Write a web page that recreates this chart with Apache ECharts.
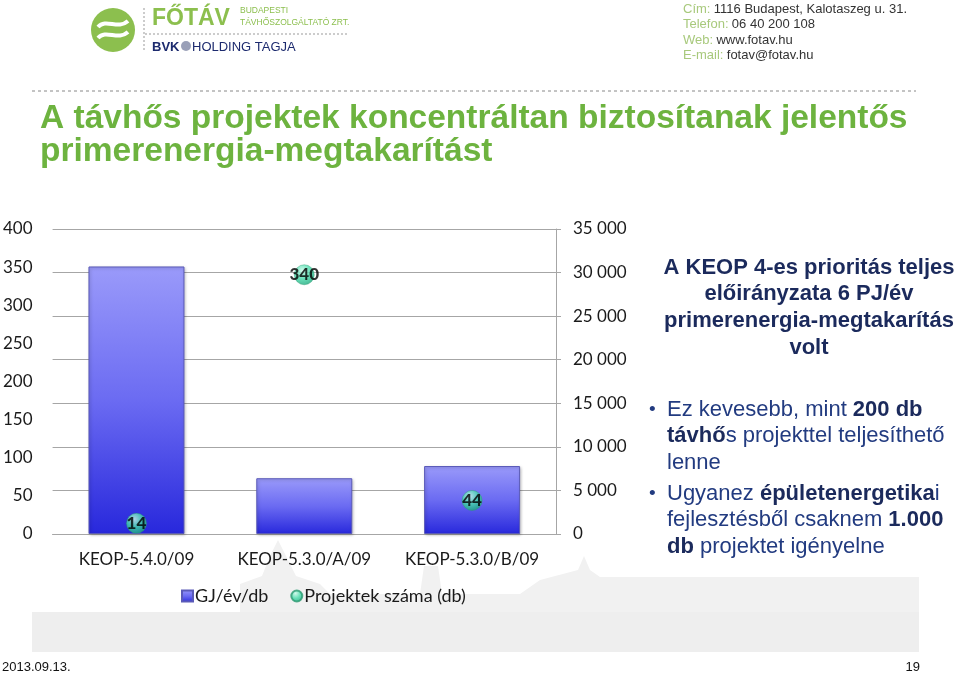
<!DOCTYPE html>
<html>
<head>
<meta charset="utf-8">
<script src="https://cdn.jsdelivr.net/npm/echarts@6/dist/echarts.min.js"></script>
<style>
html,body{margin:0;padding:0;background:#fff;}
#c{width:960px;height:676px;}
</style>
</head>
<body>
<div id="c"></div>
<script>
// ---- data ----
var categories = ['KEOP-5.4.0/09', 'KEOP-5.3.0/A/09', 'KEOP-5.3.0/B/09'];
var gjPerYear = [30700, 6400, 7800];          // GJ/év/db (right axis)
var projectCounts = [14, 340, 44];            // Projektek száma (db) (left axis)
var leftTicks = { min: 0, max: 400, interval: 50 };
var rightTicks = { min: 0, max: 35000, interval: 5000 };
var seriesNames = ['GJ/év/db', 'Projektek száma (db)'];

var chart = echarts.init(document.getElementById('c'), null, { renderer: 'canvas' });
var CF = 'Lato, "Open Sans", sans-serif';
var AF = '"Liberation Sans", Arial, sans-serif';
var navy = '#1b2a5c', blue = '#223b80', green = '#6db33f', lg = '#8cbf4e';

function fmt(v) { return String(v).replace(/\B(?=(\d{3})+(?!\d))/g, ' '); }

var graphics = [
  // background silhouette
  { type: 'polygon', z: -5, silent: true,
    shape: { points: [[32,652],[32,612],[240,612],[240,584],[262,576],[270,556],[278,540],[286,556],[296,576],[320,584],[330,594],[420,594],[424,566],[438,566],[442,594],[520,594],[540,580],[578,570],[584,556],[590,570],[600,577],[919,577],[919,652]] },
    style: { fill: '#f1f1f1' } },
  { type: 'rect', z: -4, silent: true, shape: { x: 32, y: 612, width: 887, height: 40 }, style: { fill: '#eeeeee' } },
  // logo
  { type: 'circle', shape: { cx: 113, cy: 30, r: 22 }, style: { fill: lg } },
  { type: 'bezierCurve', shape: { x1: 98, y1: 27, cpx1: 106, cpy1: 18, cpx2: 118, cpy2: 30, x2: 128, y2: 21 }, style: { stroke: '#fff', lineWidth: 4, fill: null } },
  { type: 'bezierCurve', shape: { x1: 98, y1: 38, cpx1: 106, cpy1: 29, cpx2: 118, cpy2: 41, x2: 128, y2: 32 }, style: { stroke: '#fff', lineWidth: 4, fill: null } },
  { type: 'line', shape: { x1: 144, y1: 8, x2: 144, y2: 52 }, style: { stroke: '#999', lineWidth: 1, lineDash: [2, 2] } },
  { type: 'line', shape: { x1: 145, y1: 34, x2: 347, y2: 34 }, style: { stroke: '#999', lineWidth: 1, lineDash: [2, 2] } },
  { type: 'text', style: { text: 'FŐTÁV', x: 152, y: 19, font: 'bold 23px ' + AF, fill: lg, verticalAlign: 'middle' } },
  { type: 'text', style: { text: 'BUDAPESTI', x: 240, y: 11, font: '8.5px ' + AF, fill: lg, verticalAlign: 'middle' } },
  { type: 'text', style: { text: 'TÁVHŐSZOLGÁLTATÓ ZRT.', x: 240, y: 23, font: '8.5px ' + AF, fill: lg, verticalAlign: 'middle' } },
  { type: 'text', style: { text: 'BVK', x: 152, y: 47, font: 'bold 13px ' + AF, fill: '#1c2a6e', verticalAlign: 'middle' } },
  { type: 'circle', shape: { cx: 186, cy: 46, r: 5 }, style: { fill: '#9aa0b8' } },
  { type: 'text', style: { text: 'HOLDING TAGJA', x: 192, y: 47, font: '13px ' + AF, fill: '#1c2a6e', verticalAlign: 'middle' } },
  // contacts
  { type: 'text', style: { text: '{l|Cím:} {v|1116 Budapest, Kalotaszeg u. 31.}', x: 683, y: 9, verticalAlign: 'middle', rich: { l: { fill: '#a8c97c', font: '13px ' + AF }, v: { fill: '#333', font: '13px ' + AF } } } },
  { type: 'text', style: { text: '{l|Telefon:} {v|06 40 200 108}', x: 683, y: 24, verticalAlign: 'middle', rich: { l: { fill: '#a8c97c', font: '13px ' + AF }, v: { fill: '#333', font: '13px ' + AF } } } },
  { type: 'text', style: { text: '{l|Web:} {v|www.fotav.hu}', x: 683, y: 40, verticalAlign: 'middle', rich: { l: { fill: '#a8c97c', font: '13px ' + AF }, v: { fill: '#333', font: '13px ' + AF } } } },
  { type: 'text', style: { text: '{l|E-mail:} {v|fotav@fotav.hu}', x: 683, y: 55, verticalAlign: 'middle', rich: { l: { fill: '#a8c97c', font: '13px ' + AF }, v: { fill: '#333', font: '13px ' + AF } } } },
  // separator
  { type: 'line', shape: { x1: 32, y1: 91, x2: 916, y2: 91 }, style: { stroke: '#888', lineWidth: 1, lineDash: [3, 3] } },
  // title
  { type: 'text', style: { text: 'A távhős projektek koncentráltan biztosítanak jelentős', x: 40, y: 119, font: 'bold 33.5px ' + AF, fill: green, verticalAlign: 'middle' } },
  { type: 'text', style: { text: 'primerenergia-megtakarítást', x: 40, y: 152, font: 'bold 33.5px ' + AF, fill: green, verticalAlign: 'middle' } },
  // right text
  { type: 'text', style: { text: 'A KEOP 4-es prioritás teljes', x: 809, y: 268, font: 'bold 22px ' + AF, fill: navy, align: 'center', verticalAlign: 'middle' } },
  { type: 'text', style: { text: 'előirányzata 6 PJ/év', x: 809, y: 294, font: 'bold 22px ' + AF, fill: navy, align: 'center', verticalAlign: 'middle' } },
  { type: 'text', style: { text: 'primerenergia-megtakarítás', x: 809, y: 321, font: 'bold 22px ' + AF, fill: navy, align: 'center', verticalAlign: 'middle' } },
  { type: 'text', style: { text: 'volt', x: 809, y: 348, font: 'bold 22px ' + AF, fill: navy, align: 'center', verticalAlign: 'middle' } },
  { type: 'text', style: { text: '•', x: 649, y: 410, font: '19px ' + AF, fill: blue, verticalAlign: 'middle' } },
  { type: 'text', style: { text: '•', x: 649, y: 494, font: '19px ' + AF, fill: blue, verticalAlign: 'middle' } }
];
var rich = { n: { fill: blue, font: '22px ' + AF }, b: { fill: navy, font: 'bold 22px ' + AF } };
var bulletLines = [
  ['{n|Ez kevesebb, mint }{b|200 db}', 410],
  ['{b|távhő}{n|s projekttel teljesíthető}', 436],
  ['{n|lenne}', 463],
  ['{n|Ugyanez }{b|épületenergetika}{n|i}', 494],
  ['{n|fejlesztésből csaknem }{b|1.000}', 520],
  ['{b|db}{n| projektet igényelne}', 547]
];
bulletLines.forEach(function (l) {
  graphics.push({ type: 'text', style: { text: l[0], x: 667, y: l[1], verticalAlign: 'middle', rich: rich } });
});
graphics.push({ type: 'text', style: { text: '2013.09.13.', x: 2, y: 667, font: '13px ' + AF, fill: '#111', verticalAlign: 'middle' } });
graphics.push({ type: 'text', style: { text: '19', x: 920, y: 667, font: '13px ' + AF, fill: '#111', align: 'right', verticalAlign: 'middle' } });

var option = {
  animation: false,
  backgroundColor: 'transparent',
  graphic: graphics,
  grid: { left: 50, right: 404, top: 229, bottom: 142, containLabel: false },
  legend: {
    left: 176, top: 582, itemWidth: 11, itemHeight: 11, itemGap: 22,
    textStyle: { fontFamily: CF, fontSize: 18, color: '#1a1a1a', padding: [0, 0, 0, -3] },
    data: [{ name: seriesNames[0], icon: 'rect' }, { name: seriesNames[1], icon: 'circle' }]
  },
  xAxis: {
    type: 'category', data: categories,
    axisLine: { lineStyle: { color: '#a6a6a6' } },
    axisTick: { show: false },
    axisLabel: { interval: 0, fontFamily: CF, fontSize: 17, color: '#1a1a1a', margin: 17 }
  },
  yAxis: [
    { type: 'value', position: 'left', min: leftTicks.min, max: leftTicks.max, interval: leftTicks.interval,
      axisLine: { show: false }, axisTick: { show: false }, splitLine: { show: false },
      axisLabel: { fontFamily: CF, fontSize: 17, color: '#1a1a1a', margin: 20 } },
    { type: 'value', position: 'right', min: rightTicks.min, max: rightTicks.max, interval: rightTicks.interval,
      axisLine: { show: true, lineStyle: { color: '#a6a6a6' } },
      axisTick: { show: true, length: 5, lineStyle: { color: '#a6a6a6' } },
      splitLine: { show: true, lineStyle: { color: '#a6a6a6' } },
      axisLabel: { fontFamily: CF, fontSize: 17, color: '#1a1a1a', margin: 17, formatter: fmt } }
  ],
  series: [
    { name: seriesNames[0], type: 'bar', yAxisIndex: 1, barWidth: 96, data: gjPerYear,
      itemStyle: {
        color: new echarts.graphic.LinearGradient(0, 0, 0, 1, [
          { offset: 0, color: '#9a9afa' }, { offset: 0.5, color: '#6b6bf2' }, { offset: 1, color: '#2828dc' }
        ]),
        borderColor: '#5a5ab8', borderWidth: 1,
        shadowColor: 'rgba(0,0,0,0.25)', shadowBlur: 3, shadowOffsetX: 1, shadowOffsetY: 1
      } },
    { name: seriesNames[1], type: 'scatter', yAxisIndex: 0, symbol: 'circle', symbolSize: 20, data: projectCounts, z: 5,
      itemStyle: {
        color: new echarts.graphic.RadialGradient(0.4, 0.3, 0.75, [
          { offset: 0, color: '#c9fbe9' }, { offset: 0.5, color: '#45dcaa' }, { offset: 1, color: '#17a277' }
        ]),
        borderColor: '#2a9a70', borderWidth: 0.5
      },
      label: { show: true, position: 'inside', fontFamily: CF, fontWeight: 900, fontSize: 17, color: '#000' } }
  ]
};
chart.setOption(option);
</script>
</body>
</html>
